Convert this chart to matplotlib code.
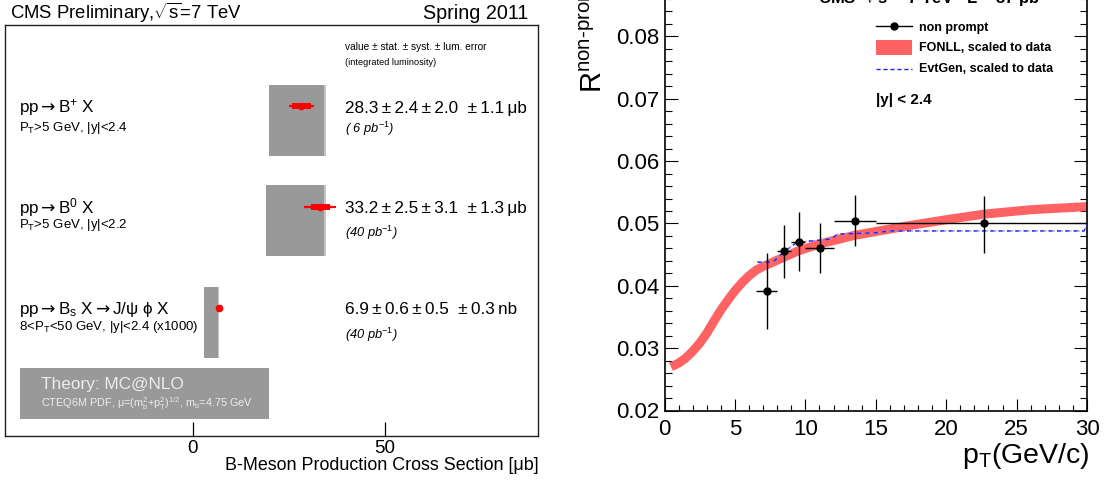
import matplotlib
matplotlib.use('Agg')
import matplotlib.pyplot as plt
from matplotlib.lines import Line2D
from matplotlib.patches import Rectangle
from matplotlib.ticker import MultipleLocator, FormatStrFormatter, FixedLocator

plt.rcParams['font.family'] = ['Liberation Sans', 'DejaVu Sans']
plt.rcParams['mathtext.fontset'] = 'custom'
plt.rcParams['mathtext.rm'] = 'Liberation Sans'
plt.rcParams['mathtext.it'] = 'Liberation Sans:italic'
plt.rcParams['mathtext.bf'] = 'Liberation Sans:bold'
plt.rcParams['mathtext.sf'] = 'DejaVu Sans'

ARW = '$\\mathsf{\\rightarrow}$'
TS = '\u2009'

# ---------------- Left panel data ----------------
channels = ['pp' + ARW + 'B$^{+}$ X', 'pp' + ARW + 'B$^{0}$ X',
            'pp' + ARW + 'B$_{\\mathrm{s}}$ X' + ARW + 'J/ψ ϕ X']
cuts = ['P$_{\\mathrm{T}}$>5 GeV, |y|<2.4', 'P$_{\\mathrm{T}}$>5 GeV, |y|<2.2',
        '8<P$_{\\mathrm{T}}$<50 GeV, |y|<2.4 (x1000)']
values = [28.3, 33.2, 6.9]
stat = [2.4, 2.5, 0.6]
syst = [2.0, 3.1, 0.5]
lumi = [1.1, 1.3, 0.3]
units = ['μb', 'μb', 'nb']
lumi_labels = ['( 6 pb$^{-1}$)', '(40 pb$^{-1}$)', '(40 pb$^{-1}$)']
theory_lo = [19.8, 19.0, 2.9]
theory_hi = [34.1, 34.1, 6.5]
theory_edge = [34.6, 34.8, 6.9]
left_ticks = [0, 50]

# ---------------- Right panel data ----------------
bin_lo = [6.5, 8.0, 9.0, 10.0, 12.0, 15.0]
bin_hi = [8.0, 9.0, 10.0, 12.0, 15.0, 30.0]
pt = [7.28, 8.52, 9.56, 11.05, 13.56, 22.69]
R = [0.0392, 0.0456, 0.0471, 0.0461, 0.0504, 0.0500]
R_up = [0.0453, 0.0498, 0.0519, 0.0500, 0.0546, 0.0544]
R_dn = [0.0330, 0.0412, 0.0423, 0.0421, 0.0464, 0.0453]

fonll_pt = [0.46, 1.0, 1.5, 2.0, 2.5, 3.0, 3.5, 4.0, 4.5, 5.0, 5.5, 6.0, 6.5, 7.0,
            7.5, 8.5, 9.5, 11.0, 13.5, 15.0, 17.5, 20.0, 22.7, 26.0, 30.0]
fonll_R = [0.0270, 0.0276, 0.0284, 0.0295, 0.0308, 0.0324, 0.0343, 0.0361, 0.0377,
           0.0392, 0.0405, 0.0416, 0.0425, 0.0431, 0.0436, 0.0446, 0.0456, 0.0467,
           0.0481, 0.0487, 0.0497, 0.0506, 0.0515, 0.0522, 0.0527]

evt_pt = [6.6, 7.7, 8.5, 9.3, 10.0, 11.8, 12.3, 15.0, 16.0, 29.8, 30.0]
evt_R = [0.0438, 0.0438, 0.0455, 0.0468, 0.0471, 0.0475, 0.0483, 0.0485, 0.0488,
         0.0488, 0.0500]

W, H = 1110, 482
fig = plt.figure(figsize=(W / 100, H / 100), dpi=100)


def F(px, py):
    return px / W, 1 - py / H


def ftext(px, py, s, **kw):
    x, y = F(px, py)
    kw.setdefault('va', 'baseline')
    return fig.text(x, y, s, **kw)


# ================= LEFT PANEL =================
L0, L1, T0, B0 = 5.2, 537.9, 25.0, 435.7
axL = fig.add_axes([L0 / W, 1 - B0 / H, (L1 - L0) / W, (B0 - T0) / H])
axL.set_xlim(-49, 90)
axL.set_ylim(B0, T0)  # vertical coordinate: pixel rows, layout only
for sp in axL.spines.values():
    sp.set_linewidth(1.0)
    sp.set_color('#222222')
axL.yaxis.set_visible(False)
axL.xaxis.set_major_locator(FixedLocator(left_ticks))
axL.set_xticklabels([str(t) for t in left_ticks])
axL.tick_params(axis='x', direction='in', length=10, width=0.9, labelsize=13.5, pad=3)

row_y = [106.5, 207.0, 308.3]
for i in range(3):
    y = row_y[i]
    axL.barh(y + 14, theory_hi[i] - theory_lo[i], left=theory_lo[i], height=71,
             color='#999999', zorder=1)
    axL.barh(y + 14, theory_edge[i] - theory_hi[i], left=theory_hi[i], height=71,
             color='#c4c4c4', zorder=1)
    tot = (stat[i] ** 2 + syst[i] ** 2 + lumi[i] ** 2) ** 0.5
    axL.errorbar([values[i]], [y], xerr=[[tot], [tot]], fmt='none', ecolor='red',
                 elinewidth=1.6, capsize=0, zorder=3)
    axL.errorbar([values[i]], [y], xerr=[[stat[i]], [stat[i]]], fmt='o', color='red',
                 ms=4.5, ecolor='red', elinewidth=4.3, capsize=0, zorder=4)

# texts left
ftext(10.3, 19.3, 'CMS Preliminary,$\\sqrt{\\mathrm{s}}$=7 TeV', fontsize=13.3)
ftext(528.6, 19.3, 'Spring 2011', fontsize=14.2, ha='right')
ftext(345.4, 50, 'value ± stat. ± syst. ± lum. error', fontsize=7.3)
ftext(345.4, 65.3, '(integrated luminosity)', fontsize=6.6)

name_base = [112.7, 213.3, 314.0]
cut_base = [130.7, 228.3, 330.0]
lum_base = [133.3, 237.3, 339.0]
for i in range(3):
    ftext(18.9, name_base[i], channels[i], fontsize=12.3)
    ftext(18.9, cut_base[i], cuts[i], fontsize=9.5)
    ftext(345.4, name_base[i],
          f'{values[i]}{TS}±{TS}{stat[i]}{TS}±{TS}{syst[i]}  ±{TS}{lumi[i]}{TS}{units[i]}',
          fontsize=12.3)
    ftext(345.4, lum_base[i], lumi_labels[i], fontsize=9.3, style='italic')

# theory box
x0, y0 = F(20, 419.3)
x1, y1 = F(269.3, 368.3)
fig.patches.append(Rectangle((x0, y0), x1 - x0, y1 - y0, transform=fig.transFigure,
                             facecolor='#999999', edgecolor='none', zorder=2))
ftext(40.7, 389.3, 'Theory: MC@NLO', fontsize=12.4, color='#ececec')
ftext(40.7, 406.7,
      'CTEQ6M PDF, μ=(m$_{\\mathrm{b}}^{2}$+p$_{\\mathrm{T}}^{2}$)$^{1/2}$, m$_{\\mathrm{b}}$=4.75 GeV',
      fontsize=7.8, color='#ececec')

ftext(539, 470, 'B-Meson Production Cross Section [μb]', fontsize=12.9, ha='right')

# ================= RIGHT PANEL =================
RL, RR, RB = 664.5, 1087.0, 410.5
pxu = 62.35 / 0.01
ytop = 0.0895
axR = fig.add_axes([RL / W, 1 - RB / H, (RR - RL) / W, (ytop - 0.02) * pxu / H])
axR.set_xlim(0, 30)
axR.set_ylim(0.02, ytop)
for sp in axR.spines.values():
    sp.set_linewidth(1.2)
axR.xaxis.set_major_locator(MultipleLocator(5))
axR.xaxis.set_minor_locator(MultipleLocator(1))
axR.yaxis.set_major_locator(MultipleLocator(0.01))
axR.yaxis.set_minor_locator(MultipleLocator(0.002))
axR.yaxis.set_major_formatter(FormatStrFormatter('%.2f'))
axR.xaxis.set_major_formatter(FormatStrFormatter('%d'))
axR.tick_params(axis='y', which='major', direction='in', length=9.4, width=0.8,
                right=True, labelsize=16, pad=4)
axR.tick_params(axis='y', which='minor', direction='in', length=4.8, width=0.8, right=True)
axR.tick_params(axis='x', which='major', direction='in', length=8.4, width=0.8,
                labelsize=16, pad=6)
axR.tick_params(axis='x', which='minor', direction='in', length=4.1, width=0.8)

axR.plot(fonll_pt, fonll_R, color='#ff6262', lw=6.5, solid_capstyle='butt',
         solid_joinstyle='round', zorder=2)
axR.plot(evt_pt, evt_R, color='#9999ff', lw=1.0, ls=(0, (1.5, 1.5)), zorder=3)
axR.plot(evt_pt, evt_R, color='#2222ee', lw=1.0, ls=(0, (3, 3)), zorder=3)
xerr = [[p - lo for p, lo in zip(pt, bin_lo)], [hi - p for p, hi in zip(pt, bin_hi)]]
yerr = [[r - d for r, d in zip(R, R_dn)], [u - r for r, u in zip(R, R_up)]]
axR.errorbar(pt, R, xerr=xerr, yerr=yerr, fmt='o', color='black', ms=5,
             elinewidth=1.0, capsize=0, zorder=5)

# partially visible title
axR.text(10.9, 0.08535, 'CMS  $\\sqrt{\\mathbf{s}}$ = 7 TeV   L = 37 pb$^{\\mathbf{-1}}$',
         fontsize=12, fontweight='bold', va='baseline')

# legend (drawn manually to match placement)
lx0, lx1 = 876.0, 911.6
a, b = F(lx0, 26)
c, _ = F(lx1, 26)
fig.lines.append(Line2D([a, c], [b, b], transform=fig.transFigure, color='black', lw=1.0))
fig.lines.append(Line2D([(a + c) / 2], [b], transform=fig.transFigure, color='black',
                        marker='o', ms=5))
ftext(918.6, 30.7, 'non prompt', fontsize=9, fontweight='bold')
p0, q0 = F(lx0, 55)
p1, q1 = F(lx1, 40)
fig.patches.append(Rectangle((p0, q0), p1 - p0, q1 - q0, transform=fig.transFigure,
                             facecolor='#ff6262', edgecolor='none'))
ftext(918.6, 51, 'FONLL, scaled to data', fontsize=9, fontweight='bold')
a, b = F(lx0, 69.3)
fig.lines.append(Line2D([a, c], [b, b], transform=fig.transFigure, color='#2222ee',
                        lw=1.0, ls=(0, (3, 2))))
ftext(918.6, 72, 'EvtGen, scaled to data', fontsize=9, fontweight='bold')
ftext(875.8, 104.3, '|y| < 2.4', fontsize=11, fontweight='bold')

# axis labels
ftext(1089.6, 463.3, 'p$_{\\mathrm{T}}$(GeV/c)', fontsize=20.5, ha='right')
x, y = F(601.7, 93.3)
fig.text(x, y, 'R$^{\\mathrm{non\\text{-}prompt}}$', fontsize=21, rotation=90,
         rotation_mode='anchor', ha='left', va='baseline')

fig.savefig('out.png', dpi=100)
